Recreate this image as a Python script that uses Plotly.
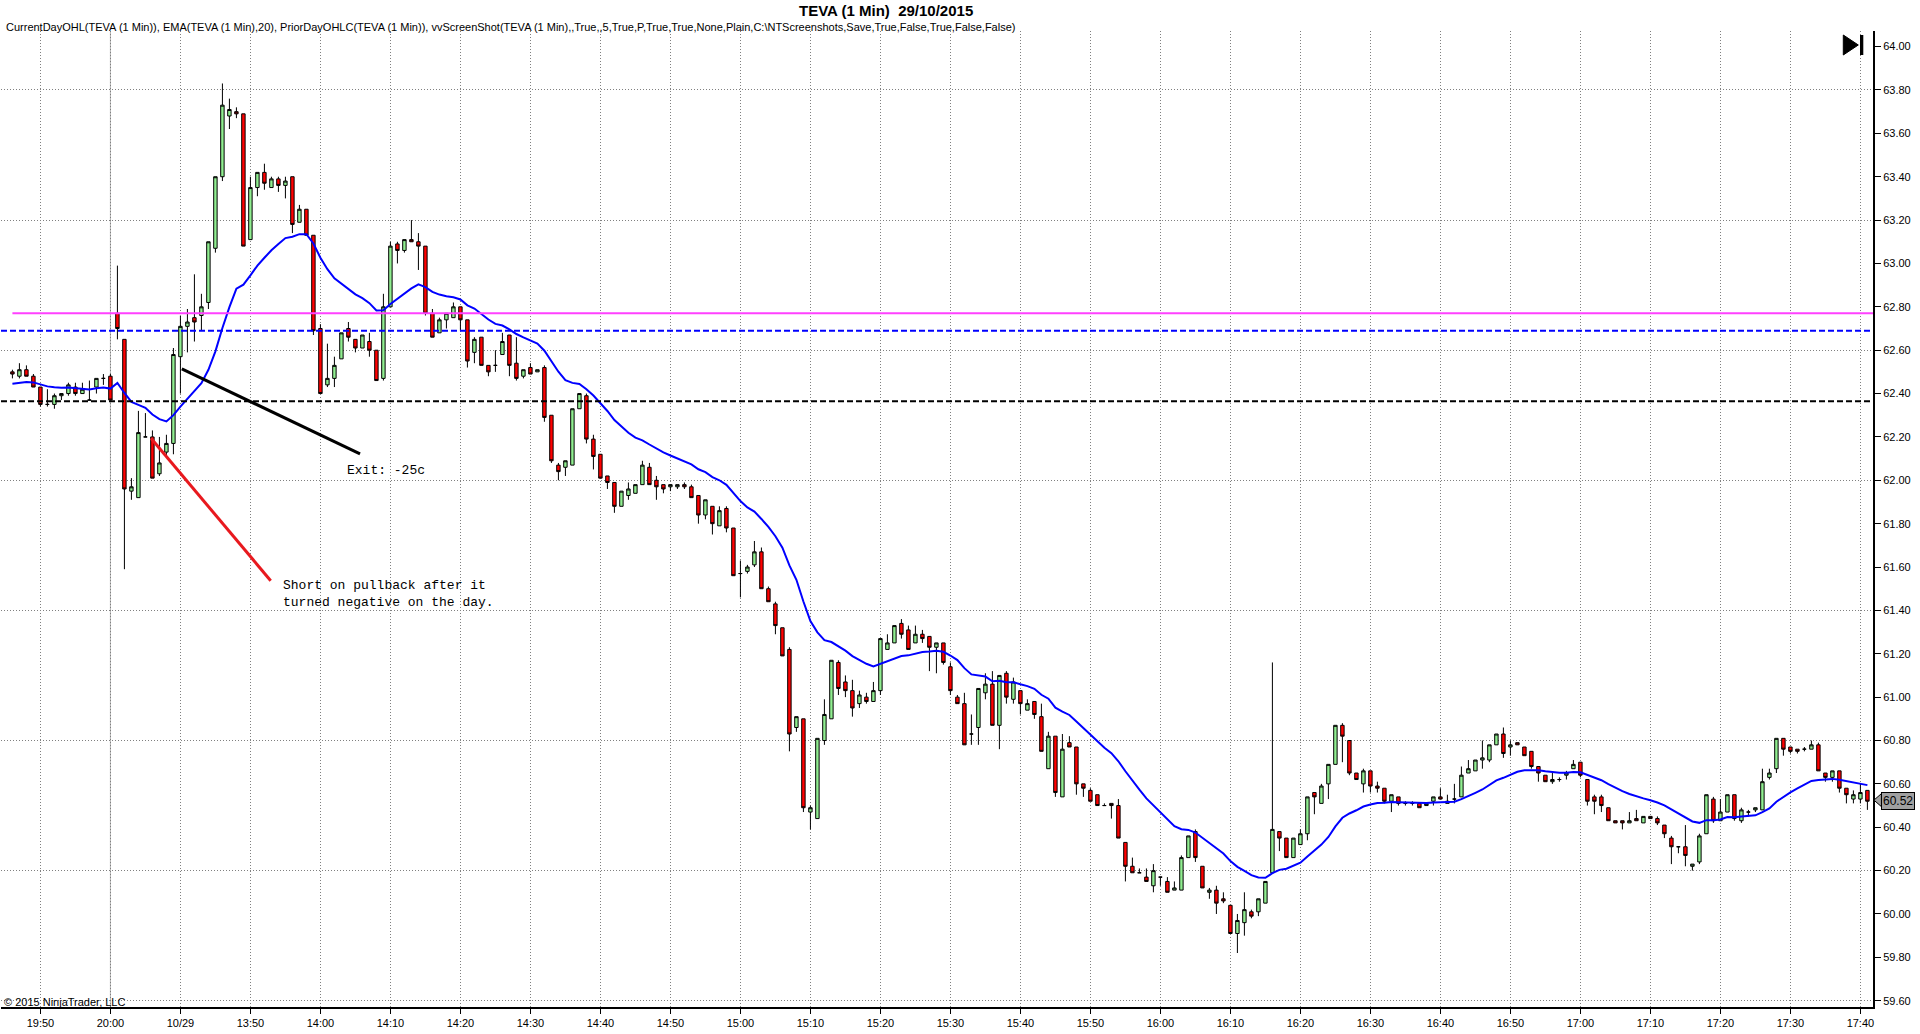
import plotly.graph_objects as go

# TEVA 1 min bars: 19:46-20:00 of the previous session, then 13:31-17:41 on 29/10
opens = [62.50, 62.48, 62.51, 62.48, 62.43, 62.35, 62.35, 62.39, 62.40, 62.43,
         62.40, 62.37, 62.43, 62.47, 62.48,
         62.77, 62.65, 61.95, 61.92, 62.20, 62.20, 62.03, 62.13, 62.17, 62.57,
         62.71, 62.75, 62.76, 62.82, 63.07, 63.40, 63.68, 63.70, 63.69, 63.11,
         63.35, 63.42, 63.35, 63.39, 63.36, 63.40, 63.19, 63.25, 63.13, 62.70,
         62.44, 62.47, 62.56, 62.70, 62.65, 62.61, 62.64, 62.60, 62.47, 62.80,
         63.09, 63.06, 63.11, 63.10, 63.08, 62.77, 62.68, 62.74, 62.75, 62.80,
         62.74, 62.59, 62.66, 62.53, 62.53, 62.58, 62.67, 62.54, 62.48, 62.52,
         62.50, 62.52, 62.30, 62.07, 62.06, 62.07, 62.33, 62.39, 62.19, 62.12,
         62.02, 61.99, 61.88, 61.93, 61.94, 61.98, 62.06, 62.00, 61.98, 61.97,
         61.97, 61.98, 61.97, 61.93, 61.84, 61.88, 61.79, 61.87, 61.78, 61.57,
         61.58, 61.61, 61.67, 61.50, 61.43, 61.32, 61.22, 60.86, 60.90, 60.47,
         60.44, 60.80, 60.90, 61.16, 61.07, 61.03, 60.97, 61.00, 60.98, 61.03,
         61.22, 61.25, 61.34, 61.31, 61.25, 61.29, 61.28, 61.23, 61.25, 61.14,
         61.00, 60.97, 60.83, 60.86, 61.02, 61.06, 60.87, 61.11, 60.99, 61.03,
         60.94, 60.98, 60.91, 60.67, 60.82, 60.54, 60.79, 60.77, 60.60, 60.57,
         60.55, 60.50, 60.51, 60.50, 60.33, 60.22, 60.19, 60.17, 60.13, 60.17,
         60.15, 60.11, 60.11, 60.26, 60.38, 60.22, 60.10, 60.11, 60.07, 60.04,
         59.91, 59.96, 60.01, 60.01, 60.05, 60.19, 60.38, 60.35, 60.26, 60.32,
         60.37, 60.56, 60.51, 60.60, 60.69, 60.87, 60.80, 60.65, 60.60, 60.66,
         60.59, 60.58, 60.52, 60.54, 60.51, 60.51, 60.51, 60.50, 60.52, 60.54,
         60.51, 60.53, 60.54, 60.65, 60.66, 60.71, 60.71, 60.78, 60.83, 60.77,
         60.79, 60.77, 60.75, 60.68, 60.64, 60.61, 60.62, 60.64, 60.67, 60.70,
         60.62, 60.54, 60.54, 60.49, 60.43, 60.43, 60.42, 60.44, 60.42, 60.45,
         60.44, 60.41, 60.35, 60.31, 60.31, 60.22, 60.24, 60.37, 60.53, 60.43,
         60.47, 60.55, 60.43, 60.47, 60.48, 60.48, 60.63, 60.67, 60.81, 60.77,
         60.76, 60.76, 60.76, 60.78, 60.65, 60.63, 60.66, 60.58, 60.53, 60.53,
         60.57]
highs = [62.51, 62.54, 62.53, 62.49, 62.43, 62.42, 62.40, 62.40, 62.45, 62.45,
         62.45, 62.46, 62.47, 62.49, 62.49,
         62.99, 62.65, 62.01, 62.32, 62.31, 62.23, 62.20, 62.21, 62.61, 62.76,
         62.79, 62.95, 62.86, 63.10, 63.40, 63.83, 63.76, 63.72, 63.69, 63.40,
         63.42, 63.46, 63.40, 63.40, 63.40, 63.40, 63.27, 63.25, 63.13, 62.72,
         62.63, 62.57, 62.68, 62.73, 62.65, 62.67, 62.68, 62.60, 62.86, 63.10,
         63.10, 63.11, 63.20, 63.14, 63.08, 62.79, 62.75, 62.77, 62.82, 62.80,
         62.74, 62.66, 62.66, 62.53, 62.60, 62.68, 62.67, 62.66, 62.51, 62.54,
         62.51, 62.53, 62.30, 62.08, 62.09, 62.33, 62.40, 62.40, 62.21, 62.12,
         62.02, 61.99, 61.95, 61.99, 61.98, 62.09, 62.08, 62.02, 61.98, 61.98,
         61.98, 61.99, 61.98, 61.93, 61.91, 61.88, 61.88, 61.88, 61.78, 61.63,
         61.61, 61.72, 61.69, 61.51, 61.44, 61.32, 61.23, 60.91, 60.90, 60.50,
         60.81, 60.99, 61.17, 61.17, 61.10, 61.08, 61.03, 61.02, 61.07, 61.27,
         61.29, 61.33, 61.36, 61.33, 61.33, 61.31, 61.28, 61.25, 61.25, 61.16,
         61.01, 61.02, 60.92, 61.04, 61.11, 61.12, 61.10, 61.12, 61.09, 61.03,
         60.99, 60.98, 60.97, 60.84, 60.82, 60.83, 60.82, 60.77, 60.60, 60.58,
         60.55, 60.51, 60.51, 60.53, 60.33, 60.26, 60.21, 60.21, 60.23, 60.17,
         60.17, 60.15, 60.27, 60.36, 60.39, 60.22, 60.12, 60.13, 60.10, 60.04,
         60.00, 60.10, 60.02, 60.07, 60.15, 61.16, 60.38, 60.35, 60.35, 60.39,
         60.54, 60.56, 60.60, 60.69, 60.87, 60.88, 60.80, 60.65, 60.67, 60.66,
         60.61, 60.58, 60.55, 60.54, 60.52, 60.52, 60.51, 60.51, 60.54, 60.58,
         60.55, 60.60, 60.68, 60.71, 60.71, 60.80, 60.78, 60.83, 60.86, 60.80,
         60.79, 60.77, 60.75, 60.68, 60.64, 60.65, 60.63, 60.66, 60.71, 60.70,
         60.62, 60.55, 60.55, 60.49, 60.43, 60.43, 60.47, 60.48, 60.45, 60.45,
         60.45, 60.41, 60.36, 60.31, 60.41, 60.23, 60.37, 60.55, 60.54, 60.53,
         60.55, 60.55, 60.49, 60.48, 60.49, 60.67, 60.67, 60.81, 60.81, 60.77,
         60.76, 60.77, 60.80, 60.79, 60.65, 60.66, 60.66, 60.58, 60.57, 60.60,
         60.57]
lows = [62.47, 62.47, 62.48, 62.43, 62.34, 62.34, 62.33, 62.37, 62.39, 62.39,
        62.40, 62.37, 62.40, 62.44, 62.37,
        62.65, 61.59, 61.91, 61.92, 62.20, 62.01, 62.02, 62.11, 62.12, 62.40,
        62.59, 62.64, 62.69, 62.79, 63.05, 63.38, 63.62, 63.67, 63.08, 63.11,
        63.31, 63.34, 63.35, 63.33, 63.30, 63.14, 63.19, 63.13, 62.67, 62.40,
        62.43, 62.43, 62.56, 62.64, 62.59, 62.61, 62.57, 62.46, 62.46, 62.80,
        63.00, 63.05, 63.10, 62.97, 62.76, 62.66, 62.68, 62.70, 62.75, 62.69,
        62.52, 62.54, 62.53, 62.48, 62.50, 62.58, 62.48, 62.46, 62.47, 62.49,
        62.50, 62.27, 62.08, 62.00, 62.02, 62.07, 62.33, 62.17, 62.05, 62.01,
        61.96, 61.85, 61.88, 61.91, 61.94, 61.98, 61.98, 61.91, 61.94, 61.95,
        61.96, 61.96, 61.92, 61.80, 61.82, 61.75, 61.79, 61.76, 61.56, 61.46,
        61.57, 61.60, 61.50, 61.44, 61.29, 61.19, 60.75, 60.84, 60.47, 60.39,
        60.44, 60.78, 60.90, 61.01, 61.00, 60.91, 60.95, 60.97, 60.98, 61.01,
        61.22, 61.25, 61.27, 61.22, 61.25, 61.25, 61.12, 61.11, 61.15, 61.01,
        60.97, 60.78, 60.78, 60.78, 60.99, 60.87, 60.76, 60.97, 60.97, 60.92,
        60.94, 60.90, 60.75, 60.67, 60.54, 60.54, 60.77, 60.55, 60.54, 60.52,
        60.50, 60.50, 60.44, 60.35, 60.15, 60.19, 60.19, 60.15, 60.10, 60.13,
        60.10, 60.11, 60.11, 60.26, 60.24, 60.12, 60.07, 60.00, 60.05, 59.91,
        59.82, 59.90, 59.98, 59.99, 60.05, 60.19, 60.29, 60.26, 60.26, 60.32,
        60.34, 60.46, 60.51, 60.53, 60.69, 60.70, 60.64, 60.62, 60.56, 60.56,
        60.56, 60.51, 60.47, 60.50, 60.50, 60.50, 60.49, 60.50, 60.50, 60.53,
        60.51, 60.51, 60.54, 60.65, 60.66, 60.67, 60.70, 60.78, 60.72, 60.73,
        60.78, 60.73, 60.67, 60.61, 60.61, 60.60, 60.61, 60.62, 60.67, 60.63,
        60.50, 60.46, 60.47, 60.43, 60.42, 60.39, 60.42, 60.43, 60.42, 60.44,
        60.41, 60.35, 60.23, 60.28, 60.22, 60.20, 60.23, 60.37, 60.42, 60.43,
        60.47, 60.43, 60.42, 60.45, 60.47, 60.48, 60.62, 60.65, 60.73, 60.74,
        60.74, 60.75, 60.76, 60.66, 60.61, 60.61, 60.56, 60.51, 60.51, 60.51,
        60.48]
closes = [62.49, 62.51, 62.48, 62.43, 62.35, 62.35, 62.39, 62.40, 62.44, 62.40,
          62.42, 62.37, 62.47, 62.47, 62.37,
          62.70, 61.96, 61.97, 62.22, 62.20, 62.01, 62.08, 62.17, 62.58, 62.71,
          62.73, 62.73, 62.80, 63.10, 63.40, 63.73, 63.71, 63.69, 63.08, 63.35,
          63.42, 63.37, 63.39, 63.36, 63.38, 63.18, 63.25, 63.13, 62.69, 62.40,
          62.47, 62.53, 62.68, 62.66, 62.61, 62.67, 62.60, 62.46, 62.80, 63.08,
          63.06, 63.11, 63.10, 63.08, 62.77, 62.66, 62.74, 62.77, 62.80, 62.74,
          62.55, 62.65, 62.53, 62.50, 62.53, 62.64, 62.53, 62.47, 62.51, 62.49,
          62.51, 62.29, 62.09, 62.04, 62.09, 62.33, 62.40, 62.19, 62.11, 62.01,
          61.99, 61.88, 61.95, 61.96, 61.98, 62.07, 61.98, 61.97, 61.96, 61.98,
          61.98, 61.97, 61.92, 61.84, 61.91, 61.80, 61.86, 61.78, 61.56, 61.57,
          61.60, 61.67, 61.50, 61.44, 61.33, 61.19, 60.83, 60.91, 60.49, 60.49,
          60.81, 60.92, 61.17, 61.04, 61.03, 60.95, 61.01, 60.98, 61.03, 61.27,
          61.25, 61.33, 61.29, 61.22, 61.29, 61.27, 61.23, 61.25, 61.16, 61.03,
          60.97, 60.78, 60.83, 61.04, 61.06, 60.87, 61.10, 61.00, 61.07, 60.97,
          60.97, 60.92, 60.75, 60.82, 60.56, 60.76, 60.77, 60.60, 60.58, 60.52,
          60.50, 60.50, 60.50, 60.35, 60.22, 60.19, 60.19, 60.15, 60.20, 60.17,
          60.10, 60.12, 60.26, 60.36, 60.26, 60.12, 60.11, 60.05, 60.06, 59.91,
          59.97, 60.02, 59.99, 60.07, 60.15, 60.39, 60.35, 60.26, 60.35, 60.37,
          60.54, 60.54, 60.59, 60.69, 60.87, 60.82, 60.65, 60.62, 60.66, 60.59,
          60.58, 60.52, 60.55, 60.51, 60.51, 60.51, 60.49, 60.51, 60.54, 60.53,
          60.52, 60.53, 60.64, 60.67, 60.71, 60.72, 60.78, 60.83, 60.74, 60.78,
          60.78, 60.73, 60.68, 60.65, 60.61, 60.62, 60.62, 60.65, 60.69, 60.64,
          60.52, 60.52, 60.50, 60.43, 60.42, 60.42, 60.43, 60.43, 60.45, 60.44,
          60.42, 60.37, 60.31, 60.31, 60.27, 60.23, 60.36, 60.55, 60.43, 60.47,
          60.55, 60.44, 60.48, 60.47, 60.49, 60.61, 60.65, 60.81, 60.76, 60.75,
          60.75, 60.76, 60.78, 60.66, 60.63, 60.66, 60.58, 60.55, 60.55, 60.56,
          60.52]

tick_labels = ["19:50", "20:00", "10/29", "13:50", "14:00", "14:10", "14:20",
               "14:30", "14:40", "14:50", "15:00", "15:10", "15:20", "15:30",
               "15:40", "15:50", "16:00", "16:10", "16:20", "16:30", "16:40",
               "16:50", "17:00", "17:10", "17:20", "17:30", "17:40"]

ema_start = 62.44      # EMA(20) value just before the first visible bar
day_open = 62.77       # magenta line
blue_level = 62.69     # blue dashed line
prior_close = 62.365   # black dashed line
last_price = 60.52

# hand drawn trade lines (bar index, price)
exit_line_x = [24.2, 49.66]
exit_line_y = [62.514, 62.122]
entry_line_x = [19.8, 36.9]
entry_line_y = [62.194, 61.537]

bars = list(range(len(closes)))
tick_pos = [4 + 10 * i for i in range(len(tick_labels))]
session_break = 14

ema = []
prev = ema_start
for c in closes:
    prev = prev + 2 / 21 * (c - prev)
    ema.append(prev)

x_range = [-1.63, 265.8]
y_range = [59.571, 64.072]
font = "Arial, Liberation Sans, sans-serif"
mono = "Courier New, Liberation Mono, monospace"

fig = go.Figure()

fig.add_trace(go.Candlestick(
    x=bars, open=opens, high=highs, low=lows, close=closes,
    increasing=dict(fillcolor="#90ee90", line=dict(color="black", width=1)),
    decreasing=dict(fillcolor="#ff0000", line=dict(color="black", width=1)),
    whiskerwidth=0, showlegend=False, hoverinfo="skip"))

fig.add_trace(go.Scatter(x=bars, y=ema, mode="lines",
                         line=dict(color="#0000ff", width=2),
                         showlegend=False, hoverinfo="skip"))

fig.add_trace(go.Scatter(x=exit_line_x, y=exit_line_y, mode="lines",
                         line=dict(color="black", width=3),
                         showlegend=False, hoverinfo="skip"))
fig.add_trace(go.Scatter(x=entry_line_x, y=entry_line_y, mode="lines",
                         line=dict(color="#e8191e", width=3),
                         showlegend=False, hoverinfo="skip"))

# empty trace so the second axis (0.60 grid) gets drawn
fig.add_trace(go.Scatter(x=[None], y=[None], yaxis="y2", showlegend=False,
                         hoverinfo="skip"))

# price levels
fig.add_shape(type="line", xref="x", yref="y", x0=0, x1=x_range[1],
              y0=day_open, y1=day_open, line=dict(color="#ff40ff", width=2))
fig.add_shape(type="line", xref="paper", yref="y", x0=0, x1=1,
              y0=blue_level, y1=blue_level,
              line=dict(color="#0000ff", width=2, dash="6px,3px"))
fig.add_shape(type="line", xref="paper", yref="y", x0=0, x1=1,
              y0=prior_close, y1=prior_close,
              line=dict(color="black", width=2, dash="6px,3px"))
fig.add_shape(type="line", xref="x", yref="paper", x0=session_break,
              x1=session_break, y0=0, y1=1, layer="below",
              line=dict(color="#b4b4b4", width=1))

# "go to end" icon top right
fig.add_shape(type="path", xref="paper", yref="paper",
              path="M 0.98414 0.99590 L 0.98414 0.97541 L 0.99215 0.98566 Z",
              fillcolor="black", line=dict(color="black", width=1))
fig.add_shape(type="rect", xref="paper", yref="paper",
              x0=0.99306, x1=0.99482, y0=0.97541, y1=0.99590,
              fillcolor="black", line=dict(color="black", width=0))

# last price marker
fig.add_shape(type="path", xref="paper", yref="y",
              path="M 1.0005 60.525 L 1.0045 60.555 L 1.0045 60.495 Z",
              fillcolor="#a0a0a0", line=dict(color="black", width=1))
fig.add_annotation(xref="paper", yref="y", x=1.0045, y=last_price,
                   xanchor="left", yanchor="middle", showarrow=False,
                   text=f"{last_price:.2f}", bgcolor="#a0a0a0",
                   bordercolor="black", borderwidth=1, borderpad=1,
                   font=dict(family=font, size=12, color="black"))

fig.add_annotation(xref="paper", yref="paper", x=0.4728, y=1.0215,
                   xanchor="center", yanchor="middle", showarrow=False,
                   text="<b>TEVA (1 Min)&nbsp;&nbsp;29/10/2015</b>",
                   font=dict(family=font, size=15, color="black"))
fig.add_annotation(xref="paper", yref="paper", x=0.0015, y=1.004,
                   xanchor="left", yanchor="middle", showarrow=False,
                   text="CurrentDayOHL(TEVA (1 Min)), EMA(TEVA (1 Min),20), "
                        "PriorDayOHLC(TEVA (1 Min)), vvScreenShot(TEVA (1 Min),,True,,5,"
                        "True,P,True,True,None,Plain,C:\\NTScreenshots,Save,True,False,"
                        "True,False,False)",
                   font=dict(family=font, size=11, color="black"))
fig.add_annotation(xref="paper", yref="paper", x=0.0005, y=0.005,
                   xanchor="left", yanchor="middle", showarrow=False,
                   text="© 2015 NinjaTrader, LLC",
                   font=dict(family=font, size=11, color="black"))

fig.add_annotation(x=47.5, y=62.045, xanchor="left", yanchor="middle",
                   showarrow=False, text="Exit: -25c",
                   font=dict(family=mono, size=13, color="black"))
fig.add_annotation(x=38.3, y=61.475, xanchor="left", yanchor="middle",
                   showarrow=False, align="left",
                   text="Short on pullback after it<br>turned negative on the day.",
                   font=dict(family=mono, size=13, color="black"))

fig.update_layout(
    width=1920, height=1034,
    margin=dict(l=1, r=47, t=31, b=27),
    paper_bgcolor="white", plot_bgcolor="white",
    showlegend=False, hovermode=False, boxgap=0.3,
    xaxis=dict(type="linear", range=x_range, rangeslider=dict(visible=False),
               tickvals=tick_pos, ticktext=tick_labels,
               showgrid=True, gridcolor="#808080", griddash="1px,2px", gridwidth=1,
               zeroline=False, showline=True, linecolor="black", linewidth=1.5,
               ticks="outside", ticklen=5, tickcolor="black",
               tickfont=dict(family=font, size=11, color="black")),
    yaxis=dict(range=y_range, side="right", tick0=59.6, dtick=0.2,
               tickformat=".2f", showgrid=False, zeroline=False,
               showline=True, linecolor="black", linewidth=2,
               ticks="outside", ticklen=6, tickcolor="black",
               tickfont=dict(family=font, size=11, color="black")),
    yaxis2=dict(range=y_range, overlaying="y", side="right", tick0=59.6, dtick=0.6,
                showticklabels=False, ticks="", showgrid=True, gridcolor="#808080",
                griddash="1px,2px", gridwidth=1, zeroline=False, showline=False),
)

# page body has a default 8px margin; drop it so the chart sits at 0,0
fig.write_html("out.html", config={"displayModeBar": False},
               post_script="document.body.style.margin='0';")
